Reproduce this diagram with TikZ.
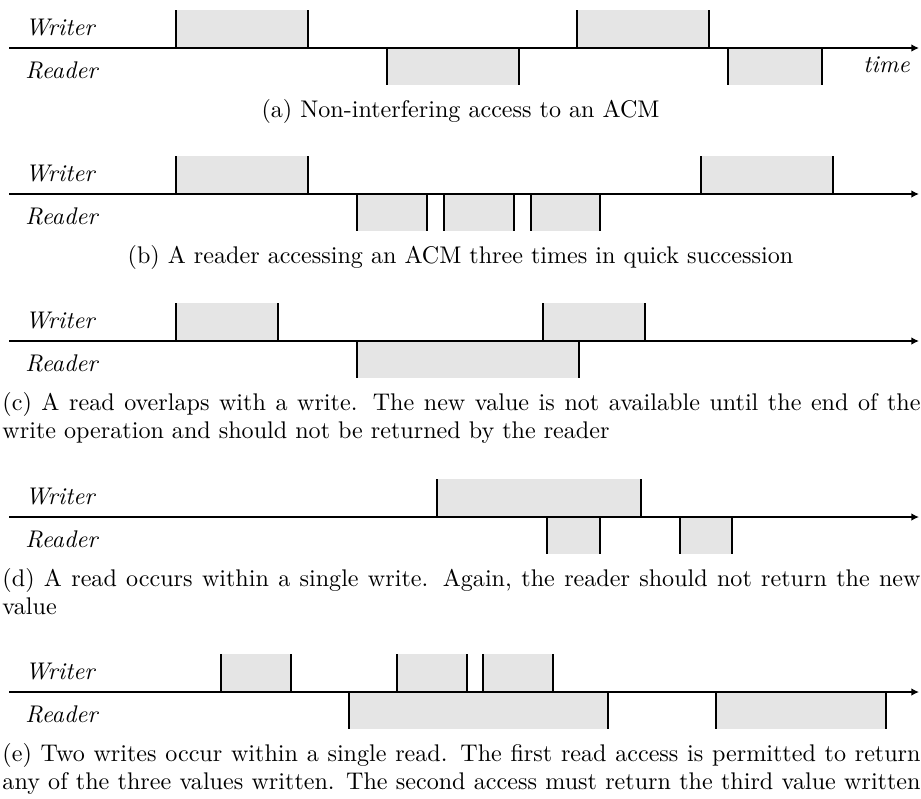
\documentclass[tikz,border=0pt]{standalone}
\usetikzlibrary{arrows.meta}
\tikzset{
  acmfill/.style={fill=black!10},
  edge/.style={line width=0.8pt},
  axisline/.style={line width=0.8pt,-{Latex[length=3.2pt,width=3.2pt]}},
  lbl/.style={inner sep=0pt,anchor=base west,font=\itshape},
  captext/.style={inner sep=0pt,anchor=base west},
  capcenter/.style={inner sep=0pt,anchor=base},
}
\newcommand{\wbox}[3]{% x1 x2 axis : writer box above axis
  \fill[acmfill] (#1,#3-38) rectangle (#2,#3);
  \draw[edge] (#1,#3-38) -- (#1,#3) (#2,#3-38) -- (#2,#3);}
\newcommand{\rbox}[3]{% reader box below axis
  \fill[acmfill] (#1,#3) rectangle (#2,#3+37);
  \draw[edge] (#1,#3) -- (#1,#3+37) (#2,#3) -- (#2,#3+37);}
\newcommand{\fullline}[1]{\makebox[381pt][s]{#1}}
\begin{document}
\begin{tikzpicture}[x=0.415pt,y=-0.415pt]
\useasboundingbox (0,0) rectangle (921,798);
% ---------- (a)
\wbox{176}{308}{48}\wbox{577}{709}{48}
\rbox{387}{519}{48}\rbox{728}{822}{48}
\coordinate (aS) at (9,48); \coordinate (aE) at (919,48);
\draw[axisline] (aS) -- (aE);
\node[lbl] (aW) at (25,35) {Writer};
\node[lbl] (aR) at (25,78) {Reader};
\node[lbl] (aT) at (863,72) {time};
\node[capcenter] (aC) at (460.5,117) {(a) Non-interfering access to an ACM};
% ---------- (b)
\wbox{176}{308}{194}\wbox{701}{833}{194}
\rbox{357}{427}{194}\rbox{444}{514}{194}\rbox{531}{600}{194}
\coordinate (bS) at (9,194); \coordinate (bE) at (919,194);
\draw[axisline] (bS) -- (bE);
\node[lbl] (bW) at (25,181) {Writer};
\node[lbl] (bR) at (25,224) {Reader};
\node[capcenter] (bC) at (460.5,263) {(b) A reader accessing an ACM three times in quick succession};
% ---------- (c)
\wbox{176}{278}{341}\wbox{543}{645}{341}
\rbox{357}{579}{341}
\coordinate (cS) at (9,341); \coordinate (cE) at (919,341);
\draw[axisline] (cS) -- (cE);
\node[lbl] (cW) at (25,328) {Writer};
\node[lbl] (cR) at (25,371) {Reader};
\node[captext] (cC1) at (2,410) {\fullline{(c) A read overlaps with a write. The new value is not available until the end of the}};
\node[captext] (cC2) at (2,438) {write operation and should not be returned by the reader};
% ---------- (d)
\wbox{437}{641}{517}
\rbox{547}{600}{517}\rbox{680}{732}{517}
\coordinate (dS) at (9,517); \coordinate (dE) at (919,517);
\draw[axisline] (dS) -- (dE);
\node[lbl] (dW) at (25,504) {Writer};
\node[lbl] (dR) at (25,547) {Reader};
\node[captext] (dC1) at (2,586) {\fullline{(d) A read occurs within a single write. Again, the reader should not return the new}};
\node[captext] (dC2) at (2,614) {value};
% ---------- (e)
\wbox{221}{291}{692}\wbox{397}{467}{692}\wbox{483}{553}{692}
\rbox{349}{608}{692}\rbox{716}{886}{692}
\coordinate (eS) at (9,692); \coordinate (eE) at (919,692);
\draw[axisline] (eS) -- (eE);
\node[lbl] (eW) at (25,679) {Writer};
\node[lbl] (eR) at (25,722) {Reader};
\node[captext] (eC1) at (2,761) {\fullline{(e) Two writes occur within a single read. The first read access is permitted to return}};
\node[captext] (eC2) at (2,789) {\fullline{any of the three values written. The second access must return the third value written}};
\end{tikzpicture}
\end{document}
